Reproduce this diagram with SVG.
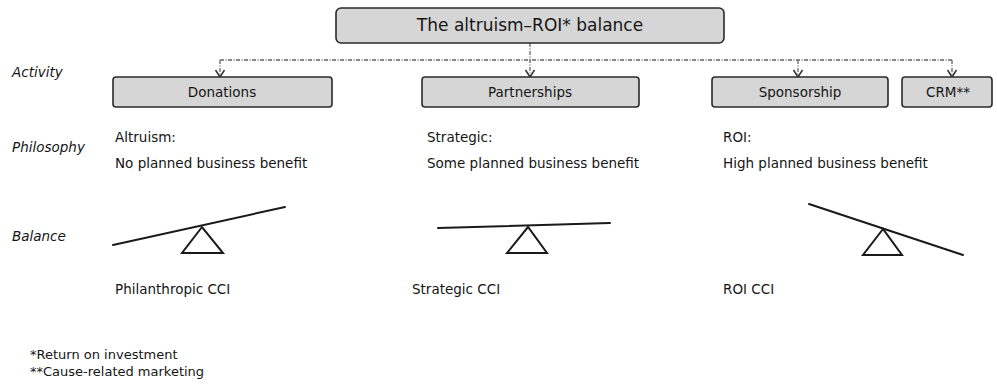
<svg xmlns="http://www.w3.org/2000/svg" width="997" height="387" viewBox="0 0 997 387">
<style>
  text { font-family: "DejaVu Sans", "Liberation Sans", sans-serif; fill: #151515; }
  .box { fill: #d6d6d6; stroke: #2a2a2a; stroke-width: 1.6; }
  .title { font-size: 17px; text-anchor: middle; }
  .lbl { font-size: 13.5px; text-anchor: middle; }
  .txt { font-size: 13.5px; }
  .side { font-size: 13.5px; font-style: italic; }
  .foot { font-size: 13px; }
  .dash { fill: none; stroke: #666; stroke-width: 1.3; stroke-dasharray: 4 1.5 1 1.5; }
  .lever { stroke: #1a1a1a; stroke-width: 2; fill: none; stroke-linecap: round; }
  .fulcrum { fill: #fff; stroke: #1a1a1a; stroke-width: 2; stroke-linejoin: miter; }
</style>
<defs>
  <marker id="arr" markerWidth="12" markerHeight="12" refX="9" refY="6" orient="auto" markerUnits="userSpaceOnUse" viewBox="0 0 12 12">
    <path d="M2,1.5 L9,6 L2,10.5" fill="none" stroke="#333" stroke-width="1.5"/>
  </marker>
</defs>
<rect width="997" height="387" fill="#fff"/>

<g id="connectors">
  <line class="dash" x1="220" y1="60" x2="952" y2="60"/>
  <line class="dash" x1="530" y1="43" x2="530" y2="77" marker-end="url(#arr)"/>
  <line class="dash" x1="220" y1="60" x2="220" y2="77" marker-end="url(#arr)"/>
  <line class="dash" x1="798" y1="60" x2="798" y2="77" marker-end="url(#arr)"/>
  <line class="dash" x1="952" y1="60" x2="952" y2="77" marker-end="url(#arr)"/>
</g>

<g id="title">
  <rect class="box" x="336" y="8" width="388" height="35" rx="5"/>
  <text class="title" x="530" y="31">The altruism–ROI* balance</text>
</g>

<g id="donations">
  <rect class="box" x="113" y="77" width="219" height="30" rx="3"/>
  <text class="lbl" x="222" y="97">Donations</text>
</g>
<g id="partnerships">
  <rect class="box" x="422" y="77" width="217" height="30" rx="3"/>
  <text class="lbl" x="530" y="97">Partnerships</text>
</g>
<g id="sponsorship">
  <rect class="box" x="712" y="77" width="176" height="30" rx="3"/>
  <text class="lbl" x="800" y="97">Sponsorship</text>
</g>
<g id="crm">
  <rect class="box" x="902" y="77" width="90" height="30" rx="3"/>
  <text class="lbl" x="948" y="97">CRM**</text>
</g>

<g id="row-labels">
  <text class="side" x="12" y="77">Activity</text>
  <text class="side" x="12" y="152">Philosophy</text>
  <text class="side" x="12" y="241">Balance</text>
</g>

<g id="philosophy-altruism">
  <text class="txt" x="115" y="142">Altruism:</text>
  <text class="txt" x="115" y="168">No planned business benefit</text>
</g>
<g id="philosophy-strategic">
  <text class="txt" x="427" y="142">Strategic:</text>
  <text class="txt" x="427" y="168">Some planned business benefit</text>
</g>
<g id="philosophy-roi">
  <text class="txt" x="723" y="142">ROI:</text>
  <text class="txt" x="723" y="168">High planned business benefit</text>
</g>

<g id="balance-philanthropic">
  <polygon class="fulcrum" points="202,227 182,253 223,253"/>
  <line class="lever" x1="113" y1="245" x2="285" y2="207"/>
  <text class="txt" x="115" y="294">Philanthropic CCI</text>
</g>
<g id="balance-strategic">
  <polygon class="fulcrum" points="528,227 507,253 547,253"/>
  <line class="lever" x1="438" y1="228" x2="610" y2="223"/>
  <text class="txt" x="412" y="294">Strategic CCI</text>
</g>
<g id="balance-roi">
  <polygon class="fulcrum" points="883,229 863,255 902,255"/>
  <line class="lever" x1="809" y1="204" x2="963" y2="255"/>
  <text class="txt" x="723" y="294">ROI CCI</text>
</g>

<g id="footnotes">
  <text class="foot" x="30" y="359">*Return on investment</text>
  <text class="foot" x="30" y="376">**Cause-related marketing</text>
</g>
</svg>
